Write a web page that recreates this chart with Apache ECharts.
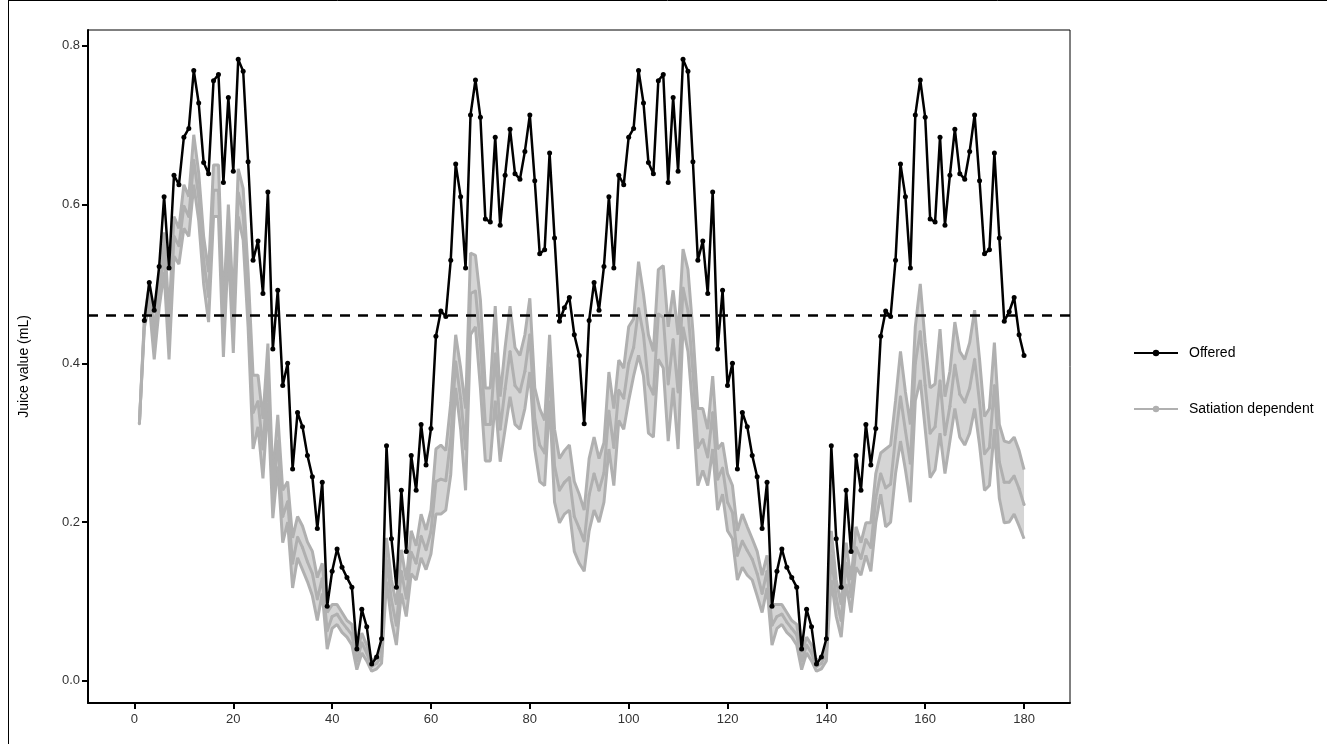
<!DOCTYPE html>
<html>
<head>
<meta charset="utf-8">
<script src="https://cdn.jsdelivr.net/npm/echarts@6/dist/echarts.min.js"></script>
<style>
html,body{margin:0;padding:0;background:#fff;}
#c{width:1327px;height:744px;}
</style>
</head>
<body>
<div id="c"></div>
<script>
// Trials 1..180
const offered = [null,
.454,.502,.467,.522,.610,.520,.637,.625,.685,.696,.769,.728,.653,.639,.756,.764,.628,.735,.642,
.783,.768,.654,.530,.554,.488,.616,.418,.492,.372,.400,.267,.338,.320,.284,.257,.192,.250,.094,.138,
.166,.143,.130,.118,.040,.090,.068,.021,.030,.053,.296,.179,.118,.240,.163,.284,.240,.323,.272,.318,
.434,.466,.459,.530,.651,.610,.520,.713,.757,.710,.582,.578,.685,.574,.637,.695,.639,.632,.667,.713,
.630,.538,.543,.665,.558,.453,.470,.483,.436,.410,
.324,.454,.502,.467,.522,.610,.520,.637,.625,.685,.696,.769,.728,.653,.639,.756,.764,.628,.735,.642,
.783,.768,.654,.530,.554,.488,.616,.418,.492,.372,.400,.267,.338,.320,.284,.257,.192,.250,.094,.138,
.166,.143,.130,.118,.040,.090,.068,.021,.030,.053,.296,.179,.118,.240,.163,.284,.240,.323,.272,.318,
.434,.466,.459,.530,.651,.610,.520,.713,.757,.710,.582,.578,.685,.574,.637,.695,.639,.632,.667,.713,
.630,.538,.543,.665,.558,.453,.465,.483,.436,.410];

const satMean = [
.324,.450,.488,.422,.490,.540,.432,.560,.548,.598,.585,.656,.610,.530,.484,.618,.618,.439,.572,.444,
.615,.588,.480,.338,.352,.292,.388,.230,.302,.207,.226,.148,.181,.168,.150,.135,.103,.129,.063,.081,
.084,.074,.066,.058,.025,.048,.035,.018,.022,.031,.152,.102,.070,.138,.104,.162,.148,.182,.165,.188,
.251,.254,.252,.305,.402,.356,.292,.488,.491,.424,.323,.323,.412,.317,.368,.415,.372,.364,.390,.436,
.330,.297,.287,.394,.271,.240,.250,.256,.207,.192,
.176,.234,.261,.240,.262,.340,.294,.366,.356,.400,.420,.469,.436,.374,.361,.462,.458,.374,.430,.364,
.495,.466,.390,.294,.304,.282,.338,.254,.268,.225,.212,.158,.176,.164,.153,.135,.110,.138,.070,.081,
.084,.074,.066,.058,.025,.045,.035,.018,.022,.035,.158,.104,.076,.148,.106,.168,.154,.178,.168,.230,
.261,.243,.248,.307,.358,.315,.274,.400,.440,.372,.312,.320,.378,.310,.346,.398,.361,.351,.369,.405,
.351,.286,.294,.372,.276,.250,.250,.258,.242,.222];

const satLower = [
.324,.445,.475,.405,.470,.515,.405,.535,.525,.570,.560,.625,.580,.500,.452,.585,.585,.408,.545,.413,
.585,.555,.445,.292,.320,.255,.350,.205,.270,.174,.200,.117,.155,.140,.125,.107,.076,.110,.040,.066,
.071,.061,.055,.045,.014,.035,.025,.012,.015,.022,.125,.076,.045,.110,.081,.135,.127,.155,.140,.160,
.210,.210,.215,.260,.369,.317,.240,.436,.446,.369,.277,.277,.353,.276,.317,.358,.323,.317,.343,.389,
.292,.251,.246,.353,.225,.199,.210,.215,.163,.148,
.138,.189,.215,.200,.225,.292,.246,.328,.317,.353,.384,.410,.384,.312,.307,.405,.394,.302,.369,.292,
.446,.415,.340,.246,.265,.246,.292,.215,.235,.189,.179,.127,.143,.133,.127,.107,.086,.117,.045,.066,
.071,.061,.055,.045,.014,.035,.025,.012,.015,.025,.127,.081,.055,.122,.086,.143,.133,.158,.138,.199,
.235,.194,.200,.261,.302,.266,.225,.353,.379,.317,.256,.266,.312,.261,.302,.343,.307,.297,.312,.343,
.297,.240,.246,.317,.230,.199,.200,.210,.195,.179];

const satUpper = [
.324,.455,.500,.440,.510,.565,.460,.585,.570,.625,.610,.688,.640,.560,.515,.650,.650,.470,.600,.475,
.645,.620,.515,.385,.385,.330,.425,.255,.335,.240,.251,.180,.207,.195,.175,.163,.130,.148,.086,.096,
.096,.086,.076,.071,.035,.060,.045,.025,.030,.040,.180,.127,.096,.165,.127,.189,.170,.210,.190,.215,
.292,.297,.290,.350,.436,.394,.343,.539,.536,.480,.369,.369,.472,.358,.420,.472,.420,.410,.436,.482,
.369,.343,.328,.436,.317,.280,.290,.297,.251,.235,
.215,.280,.307,.280,.300,.389,.343,.404,.394,.446,.456,.528,.487,.436,.415,.518,.523,.446,.492,.436,
.544,.518,.440,.343,.343,.317,.384,.292,.300,.261,.246,.189,.210,.194,.179,.163,.133,.158,.096,.096,
.096,.086,.076,.071,.035,.055,.045,.025,.030,.045,.189,.127,.096,.174,.127,.194,.174,.199,.199,.261,
.287,.292,.297,.353,.415,.364,.323,.446,.500,.426,.369,.374,.443,.358,.390,.452,.415,.405,.426,.467,
.405,.333,.343,.426,.323,.302,.300,.307,.290,.266];

const referenceValue = 0.458;
const xTicks = [0, 20, 40, 60, 80, 100, 120, 140, 160, 180];
const yTicks = [0, 0.2, 0.4, 0.6, 0.8];
const yTitle = 'Juice value (mL)';
const seriesNames = ['Offered', 'Satiation dependent'];

const pts = arr => arr.map((v, i) => [i + 1, v]).filter(p => p[1] !== null);

const grayLine = '#b0b0b0';
const grayFill = '#d5d5d5';
const font = 'Liberation Sans, Arial, sans-serif';

const chart = echarts.init(document.getElementById('c'), null, {renderer: 'canvas'});
chart.setOption({
  animation: false,
  backgroundColor: '#fff',
  graphic: [
    {type: 'line', shape: {x1: 8.5, y1: 0, x2: 8.5, y2: 744}, style: {stroke: '#000', lineWidth: 1}, silent: true},
    {type: 'line', shape: {x1: 8, y1: 0.5, x2: 1327, y2: 0.5}, style: {stroke: '#000', lineWidth: 1}, silent: true}
  ],
  grid: {left: 88, right: 257, top: 30, bottom: 41, show: true, borderColor: '#000', borderWidth: 1, backgroundColor: 'transparent'},
  xAxis: {
    type: 'value', min: -9.4, max: 189.3,
    splitLine: {show: false},
    axisLine: {show: true, onZero: false, lineStyle: {color: '#000', width: 2}},
    axisTick: {show: true, length: 6, lineStyle: {color: '#000', width: 2}, customValues: xTicks},
    axisLabel: {customValues: xTicks, color: '#333', fontSize: 13, fontFamily: font, margin: 10}
  },
  yAxis: {
    type: 'value', min: -0.028, max: 0.82,
    name: yTitle, nameLocation: 'middle', nameGap: 57, nameRotate: 90,
    nameTextStyle: {color: '#000', fontSize: 14, fontFamily: font},
    splitLine: {show: false},
    axisLine: {show: true, onZero: false, lineStyle: {color: '#000', width: 2}},
    axisTick: {show: true, length: 6, lineStyle: {color: '#000', width: 2}, customValues: yTicks},
    axisLabel: {customValues: yTicks, color: '#333', fontSize: 13, fontFamily: font, margin: 8,
      formatter: v => v.toFixed(1)}
  },
  legend: {
    data: seriesNames,
    orient: 'vertical', left: 1128, top: 341, itemWidth: 44, itemHeight: 8, itemGap: 42,
    textStyle: {color: '#000', fontSize: 14, fontFamily: font, padding: [0, 0, 0, 6]}
  },
  series: [
    {type: 'custom', name: 'band', silent: true, z: 1, clip: true,
      data: [[1, satLower[0]]],
      renderItem: (params, api) => {
        if (params.dataIndex !== 0) return null;
        const top = satUpper.map((v, i) => api.coord([i + 1, v]));
        const bot = satLower.map((v, i) => api.coord([i + 1, v])).reverse();
        return {type: 'polygon', shape: {points: top.concat(bot)}, style: {fill: grayFill}};
      }},
    {type: 'line', name: 'lowerLine', data: pts(satLower), symbol: 'none',
      lineStyle: {color: grayLine, width: 3}, z: 2},
    {type: 'line', name: 'upperLine', data: pts(satUpper), symbol: 'none',
      lineStyle: {color: grayLine, width: 3}, z: 2},
    {type: 'line', name: seriesNames[1], data: pts(satMean), symbol: 'circle', symbolSize: 3,
      itemStyle: {color: grayLine}, lineStyle: {color: grayLine, width: 3}, z: 3},
    {type: 'line', name: seriesNames[0], data: pts(offered), symbol: 'circle', symbolSize: 5,
      itemStyle: {color: '#000'}, lineStyle: {color: '#000', width: 2.5}, z: 5,
      markLine: {silent: true, symbol: 'none', label: {show: false},
        lineStyle: {color: '#000', width: 2.5, type: [10, 8]},
        data: [{yAxis: referenceValue}]}}
  ]
});
</script>
</body>
</html>
